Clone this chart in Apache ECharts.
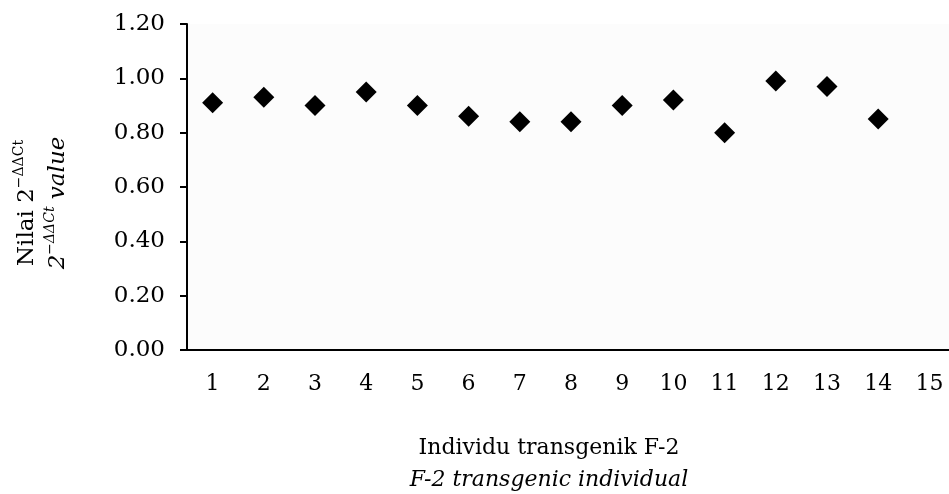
<!DOCTYPE html>
<html><head><meta charset="utf-8">
<script src="https://cdn.jsdelivr.net/npm/echarts@6/dist/echarts.min.js"></script>
<style>html,body{margin:0;padding:0;background:#fff}#c{width:949px;height:494px}</style>
</head><body><div id="c"></div>
<script>
const categories = ['1','2','3','4','5','6','7','8','9','10','11','12','13','14','15'];
const values = [0.91,0.93,0.90,0.95,0.90,0.86,0.84,0.84,0.90,0.92,0.80,0.99,0.97,0.85,null];
const yTicks = {min:0, max:1.2, interval:0.2};
const FONT = 'DejaVu Serif';
const chart = echarts.init(document.getElementById('c'), null, {renderer:'canvas'});
chart.setOption({
  animation:false,
  backgroundColor:'#fff',
  grid:{left:187, top:24, width:768, height:326, show:true, backgroundColor:'#fcfcfc', borderWidth:0, outerBoundsMode:'none', containLabel:false},
  xAxis:{
    type:'category', data:categories, boundaryGap:true,
    axisLine:{lineStyle:{color:'#000', width:2}},
    axisTick:{alignWithLabel:true, length:7, lineStyle:{color:'#000', width:2}},
    axisLabel:{color:'#000', fontFamily:FONT, fontSize:22, margin:23},
    splitLine:{show:false}
  },
  yAxis:{
    type:'value', min:yTicks.min, max:yTicks.max, interval:yTicks.interval,
    axisLine:{show:true, lineStyle:{color:'#000', width:2}},
    axisTick:{show:true, length:7, lineStyle:{color:'#000', width:2}},
    axisLabel:{color:'#000', fontFamily:FONT, fontSize:23, margin:22, formatter:v=>v.toFixed(2)},
    splitLine:{show:false}
  },
  graphic:[
    {type:'text', rotation:Math.PI/2, x:43, y:203, style:{
      text:'{n|Nilai 2}{s|−ΔΔCt}\n{i|2}{is|−ΔΔCt}{i| value}',
      align:'center', verticalAlign:'middle', fill:'#000',
      rich:{
        n:{fontFamily:FONT, fontSize:23, fill:'#000', lineHeight:31},
        s:{fontFamily:FONT, fontSize:14, fill:'#000', verticalAlign:'top', lineHeight:31},
        i:{fontFamily:FONT, fontSize:23, fontStyle:'italic', fill:'#000', lineHeight:31},
        is:{fontFamily:FONT, fontSize:14, fontStyle:'italic', fill:'#000', verticalAlign:'top', lineHeight:31}
      }}},
    {type:'text', style:{text:'Individu transgenik F-2', font:'22px "DejaVu Serif"', fill:'#000', textAlign:'center', textVerticalAlign:'middle'}, x:549, y:448},
    {type:'text', style:{text:'F-2 transgenic individual', font:'italic 22px "DejaVu Serif"', fill:'#000', textAlign:'center', textVerticalAlign:'middle'}, x:549, y:480}
  ],
  series:[{
    type:'scatter', data:values, symbol:'diamond', symbolSize:21,
    itemStyle:{color:'#000', opacity:1}
  }]
});
</script></body></html>
